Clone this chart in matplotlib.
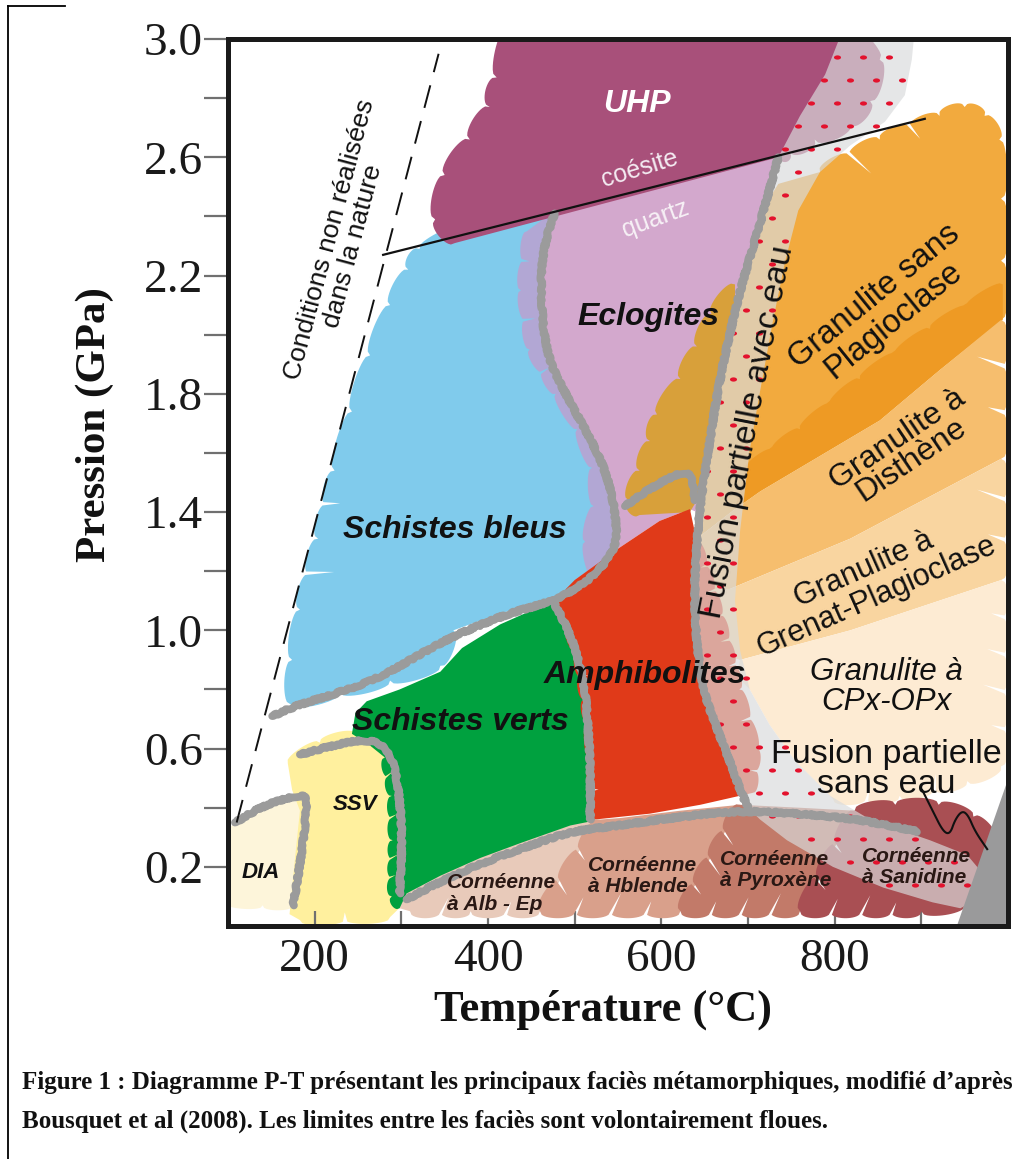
import numpy as np
import matplotlib
matplotlib.use("Agg")
import matplotlib.pyplot as plt
from matplotlib.patches import Polygon
from matplotlib.path import Path
from matplotlib.lines import Line2D

plt.rcParams['font.family'] = ['Liberation Serif', 'DejaVu Serif']

# ---------------- axes ----------------
T_RANGE = (100, 1000)
P_RANGE = (0.0, 3.0)
X_MAJOR = [200, 400, 600, 800]
X_MINOR = [300, 500, 700, 900]
Y_MAJOR = [0.2, 0.6, 1.0, 1.4, 1.8, 2.2, 2.6, 3.0]
Y_MINOR = [0.4, 0.8, 1.2, 1.6, 2.0, 2.4, 2.8]

# ---------------- facies fields (T in degC, P in GPa) ----------------
DIA_T = [95, 108, 143, 177, 189, 191, 187, 181, 175, 140, 95]
DIA_P = [0.31, 0.35, 0.41, 0.44, 0.44, 0.41, 0.29, 0.17, 0.07, 0.07, 0.08]

SSV_T = [169, 206, 247, 275, 293, 298, 302, 301, 287, 183, 171, 177, 183, 174]
SSV_P = [0.55, 0.62, 0.65, 0.64, 0.59, 0.43, 0.26, 0.07, 0.03, 0.02, 0.04, 0.22, 0.39, 0.46]

GREEN_T = [243, 247, 260, 298, 345, 370, 414, 460, 478, 497, 508, 518, 523, 523,
           498, 437, 379, 322, 298, 289, 290, 289, 281, 264]
GREEN_P = [0.65, 0.72, 0.76, 0.80, 0.86, 0.94, 1.02, 1.08, 1.09, 1.00, 0.90, 0.70, 0.46, 0.35,
           0.32, 0.26, 0.18, 0.11, 0.06, 0.10, 0.29, 0.44, 0.57, 0.61]

BLUE_T = [321, 379, 437, 477, 466, 460, 466, 491, 518, 537, 547, 549, 521, 475, 417, 360,
          345, 287, 229, 172, 174, 183, 204, 223, 243, 264, 287, 308]
BLUE_P = [2.29, 2.37, 2.40, 2.42, 2.32, 2.18, 1.94, 1.79, 1.65, 1.53, 1.40, 1.28, 1.18, 1.10,
          1.06, 1.00, 0.88, 0.83, 0.79, 0.75, 0.90, 1.07, 1.31, 1.54, 1.74, 1.93, 2.10, 2.22]

LAV_T = [477, 466, 460, 466, 491, 518, 537, 547, 549, 521, 512, 522, 520, 503, 478, 448, 438, 445]
LAV_P = [2.42, 2.32, 2.18, 1.94, 1.79, 1.65, 1.53, 1.40, 1.28, 1.18, 1.30, 1.42, 1.55, 1.68,
         1.80, 1.95, 2.15, 2.35]

ECL_T = [477, 735, 720, 705, 691, 677, 665, 656, 647, 641, 633, 598, 552, 500, 521, 549,
         547, 537, 518, 491, 466, 460, 466]
ECL_P = [2.42, 2.61, 2.44, 2.29, 2.15, 1.98, 1.81, 1.64, 1.475, 1.40, 1.41, 1.37, 1.28, 1.17,
         1.18, 1.28, 1.40, 1.53, 1.65, 1.79, 1.94, 2.18, 2.32]

UHP_T = [425, 812, 852, 841, 818, 777, 748, 735, 362, 339, 350, 379, 402, 410]
UHP_P = [3.05, 3.05, 2.93, 2.79, 2.71, 2.66, 2.62, 2.60, 2.31, 2.39, 2.54, 2.66, 2.77, 2.87]

GOLD_T = [685, 658, 641, 622, 595, 587, 575, 562, 575, 633, 647, 656, 665, 677, 685]
GOLD_P = [2.17, 2.07, 1.96, 1.85, 1.73, 1.64, 1.54, 1.44, 1.39, 1.40, 1.47, 1.64, 1.81, 1.98, 2.12]

RED_T = [500, 552, 598, 633, 641, 668, 690, 710, 705, 645, 587, 523, 518, 515, 503, 491, 478, 490]
RED_P = [1.17, 1.28, 1.37, 1.41, 1.30, 1.05, 0.80, 0.60, 0.45, 0.41, 0.38, 0.36, 0.56, 0.69,
         0.92, 1.01, 1.09, 1.14]

GSP_T = [783, 852, 921, 950, 973, 990, 992, 992, 992, 921, 852, 783, 714, 685, 641, 647, 656,
         665, 677, 691, 705, 720, 735]
GSP_P = [2.55, 2.66, 2.74, 2.77, 2.74, 2.66, 2.46, 2.25, 2.05, 1.88, 1.71, 1.59, 1.47, 1.41,
         1.31, 1.47, 1.64, 1.81, 1.98, 2.15, 2.29, 2.44, 2.51]
GDARK_T = [994, 910, 829, 760, 696, 685, 714, 783, 852, 921, 994]
GDARK_P = [2.17, 2.02, 1.85, 1.68, 1.54, 1.41, 1.47, 1.59, 1.71, 1.88, 2.05]
DIS_T = [992, 921, 852, 783, 714, 685, 641, 638, 679, 818, 992]
DIS_P = [2.05, 1.88, 1.71, 1.59, 1.47, 1.41, 1.31, 1.14, 1.14, 1.31, 1.58]
GRE_T = [992, 818, 679, 638, 640, 691, 818, 992]
GRE_P = [1.58, 1.31, 1.14, 1.14, 0.95, 0.90, 1.00, 1.17]
CPX_T = [992, 818, 691, 686, 702, 725, 754, 798, 875, 953, 992]
CPX_P = [1.17, 1.00, 0.90, 0.85, 0.80, 0.68, 0.56, 0.43, 0.44, 0.49, 0.54]

ALB_T = [298, 306, 345, 391, 437, 495, 529, 460, 380, 310]
ALB_P = [0.06, 0.11, 0.17, 0.23, 0.28, 0.34, 0.36, 0.05, 0.05, 0.05]
HBL_T = [529, 552, 622, 691, 622, 460]
HBL_P = [0.36, 0.365, 0.39, 0.41, 0.05, 0.05]
PYX_T = [691, 760, 823, 760, 622]
PYX_P = [0.41, 0.40, 0.39, 0.05, 0.05]
SAN_T = [823, 870, 920, 960, 985, 975, 950, 900, 760]
SAN_P = [0.39, 0.41, 0.41, 0.37, 0.29, 0.18, 0.07, 0.05, 0.05]

# partial-melting (wet) band
BAND_T = [893, 889, 881, 858, 818, 783, 758, 743, 729, 714, 702, 691, 685, 691, 702, 725, 754,
          795, 841, 910, 953, 973, 979, 945, 913, 856, 798, 745, 714, 700, 691, 676, 660, 648,
          640, 638, 641, 647, 656, 665, 677, 691, 705, 720, 735, 760, 789, 812]
BAND_P = [3.05, 2.93, 2.81, 2.72, 2.64, 2.55, 2.42, 2.25, 2.05, 1.81, 1.61, 1.34, 1.10, 0.93,
          0.80, 0.68, 0.56, 0.44, 0.36, 0.29, 0.24, 0.17, 0.11, 0.06, 0.08, 0.13, 0.20, 0.29,
          0.36, 0.40, 0.46, 0.58, 0.70, 0.80, 0.97, 1.14, 1.31, 1.47, 1.64, 1.81, 1.98, 2.15,
          2.29, 2.44, 2.60, 2.74, 2.88, 3.05]

CORNER_T = [941, 1010, 1010]
CORNER_P = [0.0, 0.58, 0.0]

# ---------------- boundaries ----------------
G_DIA_T = [108, 143, 177, 189, 191, 187, 181, 175]
G_DIA_P = [0.35, 0.41, 0.44, 0.44, 0.41, 0.29, 0.17, 0.07]
G_SSV_T = [183, 221, 252, 275, 290, 298, 301, 298]
G_SSV_P = [0.58, 0.61, 0.63, 0.62, 0.57, 0.44, 0.29, 0.11]
G_BS_T = [151, 183, 229, 275, 322, 360, 417, 457, 475]
G_BS_P = [0.71, 0.75, 0.79, 0.84, 0.92, 0.98, 1.05, 1.085, 1.10]
G_GA_T = [475, 491, 503, 512, 515, 518, 518]
G_GA_P = [1.10, 1.01, 0.92, 0.80, 0.69, 0.56, 0.36]
G_BE_T = [477, 466, 460, 466, 491, 518, 537, 547, 549, 521, 495, 475]
G_BE_P = [2.41, 2.32, 2.18, 1.94, 1.79, 1.65, 1.53, 1.40, 1.28, 1.18, 1.13, 1.10]
G_EA_T = [558, 587, 625, 635, 639]
G_EA_P = [1.42, 1.48, 1.54, 1.52, 1.44]
G_WET_T = [735, 720, 705, 691, 677, 665, 656, 647, 641, 638, 640, 648, 660, 676, 691, 700]
G_WET_P = [2.60, 2.44, 2.29, 2.15, 1.98, 1.81, 1.64, 1.475, 1.305, 1.14, 0.97, 0.80, 0.70,
           0.58, 0.46, 0.40]
CONTACT_T = [306, 345, 391, 437, 495, 552, 622, 691, 760, 829, 895]
CONTACT_P = [0.09, 0.15, 0.21, 0.26, 0.32, 0.34, 0.37, 0.39, 0.38, 0.36, 0.32]

COESITE_T = [279, 904]
COESITE_P = [2.27, 2.73]
LIMIT_T = [110, 343]
LIMIT_P = [0.35, 2.95]
CURL_T = [901, 913, 925, 933, 939, 947, 954, 962, 976]
CURL_P = [0.46, 0.39, 0.32, 0.31, 0.36, 0.39, 0.375, 0.32, 0.26]

# ---------------- colours ----------------
C_DIA, C_SSV, C_GREEN = '#FDF5DA', '#FFF09E', '#00A13F'
C_BLUE, C_LAV, C_ECL, C_UHP = '#80CBEC', '#B8A3D2', '#D3A8CD', '#A8507A'
C_GOLD, C_RED = '#D8A03A', '#E03A19'
C_GSP, C_GDARK, C_DIS, C_GRE, C_CPX = '#F2AA3E', '#EE9A24', '#F6BE6E', '#F9D5A0', '#FDEBD3'
C_ALB, C_HBL, C_PYX, C_SAN = '#E8CABA', '#D9A08B', '#C27A69', '#A94F53'
C_BAND, C_DOT, C_LINE, C_CORNER = '#D9DBDC', '#E3122D', '#9B9B9B', '#9A9A9B'

W, H = 1024, 1159
fig = plt.figure(figsize=(W / 100, H / 100), dpi=100)
ax = fig.add_axes([228 / W, 1 - 926 / H, 780 / W, 887 / H])
ax.set_xlim(*T_RANGE)
ax.set_ylim(*P_RANGE)


def to_disp(T, P):
    return ax.transData.transform(np.column_stack([T, P]))


def lobed_outline(T, P, lobed=(), period=34.0, amp=9.0, spike=0.0, skew=0.0):
    """Polygon outline; selected edges become brush-stroke tips separated by thin slits."""
    pts = to_disp(T, P)
    x, y = pts[:, 0], pts[:, 1]
    area = 0.5 * np.sum(x * np.roll(y, -1) - np.roll(x, -1) * y)
    sgn = 1.0 if area > 0 else -1.0
    out = []
    n = len(pts)
    for i in range(n):
        a, b = pts[i], pts[(i + 1) % n]
        if i not in lobed:
            out.append(a)
            continue
        d = b - a
        L = np.hypot(d[0], d[1])
        k = max(1, int(round(L / period)))
        tan = d / L
        nrm = sgn * np.array([d[1], -d[0]]) / L
        u = np.linspace(0.05, 0.95, 14)
        out.append(a)
        for j in range(k):
            if spike > 0 and j > 0:
                base = a + d * (j / k)
                depth = spike * (0.55 + 0.45 * ((j * 5 + i) % 3) / 2.0)
                out.append(base - depth * nrm + skew * depth * tan)
            t = (j + u) / k
            off = amp * np.sin(np.pi * u) ** 0.35
            out.extend(a + np.outer(t, d) + np.outer(off, nrm))
    return ax.transData.inverted().transform(np.array(out))


def field(T, P, color, lobed=(), amp=9.0, period=34.0, spike=0.0, skew=0.0, z=1.0,
          alpha=1.0):
    verts = lobed_outline(T, P, lobed, period, amp, spike, skew)
    ax.add_patch(Polygon(verts, closed=True, facecolor=color, edgecolor='none',
                         zorder=z, alpha=alpha))
    return verts


def chaikin(T, P, n=3):
    pts = np.column_stack([T, P]).astype(float)
    for _ in range(n):
        q = 0.75 * pts[:-1] + 0.25 * pts[1:]
        r = 0.25 * pts[:-1] + 0.75 * pts[1:]
        new = np.empty((2 * len(q), 2))
        new[0::2], new[1::2] = q, r
        pts = np.vstack([pts[:1], new, pts[-1:]])
    return pts[:, 0], pts[:, 1]


def boundary(T, P, lw=5.6):
    xs, ys = chaikin(T, P)
    ln, = ax.plot(xs, ys, color=C_LINE, lw=lw, solid_capstyle='round',
                  solid_joinstyle='round', zorder=2.2)
    ln.set_sketch_params(1.0, 5.0, 8.0)


# ---------------- fields ----------------
field(DIA_T, DIA_P, C_DIA, lobed={8, 9}, amp=5, period=40, z=1.0)
field(SSV_T, SSV_P, C_SSV, lobed={0, 1, 2, 8}, amp=6, period=40, spike=8, z=1.05)
field(GREEN_T, GREEN_P, C_GREEN, lobed={18, 19, 20, 21}, amp=5, period=20, spike=6, skew=0.8,
      z=1.1)
field(BLUE_T, BLUE_P, C_BLUE, lobed={0, 1, 2, 15, 16, 17, 18, 19, 20, 21, 22, 23, 24, 25, 26, 27},
      amp=7, period=42, spike=24, skew=0.35, z=1.15)
field(LAV_T, LAV_P, C_LAV, lobed={9, 10, 11, 12, 13, 14, 15, 16}, amp=5, period=30, spike=10,
      z=1.2, alpha=0.9)
field(ECL_T, ECL_P, C_ECL, z=1.25)
field(GOLD_T, GOLD_P, C_GOLD, lobed={0, 1, 2, 3, 4, 5, 6, 7}, amp=7, period=32, spike=10, z=1.3)
field(UHP_T, UHP_P, C_UHP, lobed={1, 2, 3, 4, 5, 6, 8, 9, 10, 11, 12, 13}, amp=8, period=44,
      spike=22, skew=0.3, z=1.35)

field(GSP_T, GSP_P, C_GSP, lobed={0, 1, 2, 3, 4, 5, 6, 7}, amp=7, period=42, spike=26,
      skew=0.4, z=1.4)
field(GDARK_T, GDARK_P, C_GDARK, lobed={0, 1, 2, 3}, amp=5, period=46, z=1.42)
field(DIS_T, DIS_P, C_DIS, lobed={10}, amp=7, period=40, spike=24, skew=0.4, z=1.44)
field(GRE_T, GRE_P, C_GRE, lobed={7}, amp=7, period=40, spike=24, skew=0.4, z=1.46)
field(CPX_T, CPX_P, C_CPX, lobed={7, 8, 9, 10}, amp=7, period=40, spike=18, skew=0.4, z=1.48)

field(RED_T, RED_P, C_RED, lobed={4, 5, 6, 7, 11, 12, 13, 14}, amp=5, period=26, spike=8, z=1.5)

field(ALB_T, ALB_P, C_ALB, lobed={7, 8}, amp=7, period=34, spike=18, skew=-0.6, z=1.6)
field(HBL_T, HBL_P, C_HBL, lobed={4, 5}, amp=7, period=34, spike=18, skew=-0.6, z=1.62)
field(PYX_T, PYX_P, C_PYX, lobed={3, 4}, amp=7, period=34, spike=18, skew=-0.6, z=1.64)
field(SAN_T, SAN_P, C_SAN, lobed={0, 1, 2, 3, 6, 7, 8}, amp=7, period=34, spike=16, skew=-0.6,
      z=1.66)

band = field(BAND_T, BAND_P, C_BAND, z=1.9, alpha=0.68)

# red dots scattered through the wet-melting band
band_path = Path(ax.transData.transform(band))
bx0, by0 = band_path.vertices.min(axis=0)
bx1, by1 = band_path.vertices.max(axis=0)
rows = np.arange(by0, by1, 23.0)
cand = []
for j, yy in enumerate(rows):
    xs = np.arange(bx0 + (j % 2) * 13.0, bx1, 26.0)
    cand.extend([(xx, yy) for xx in xs])
cand = np.array(cand)
inside = cand[band_path.contains_points(cand)]
dots = ax.transData.inverted().transform(inside)
th = np.linspace(0, 2 * np.pi, 24)
ell = np.column_stack([np.cos(th), 0.6 * np.sin(th)])
ax.scatter(dots[:, 0], dots[:, 1], marker=ell, s=26, color=C_DOT, linewidths=0, zorder=1.95)

field(CORNER_T, CORNER_P, C_CORNER, z=2.0)

# ---------------- boundaries ----------------
for bt, bp in [(G_DIA_T, G_DIA_P), (G_SSV_T, G_SSV_P), (G_BS_T, G_BS_P), (G_GA_T, G_GA_P),
               (G_BE_T, G_BE_P), (G_EA_T, G_EA_P), (G_WET_T, G_WET_P),
               (CONTACT_T, CONTACT_P)]:
    boundary(bt, bp)

ax.plot(COESITE_T, COESITE_P, color='#111111', lw=1.6, zorder=2.3)
dash, = ax.plot(LIMIT_T, LIMIT_P, color='#111111', lw=1.4, zorder=2.3)
dash.set_dashes((12, 7))
ct, cp = chaikin(CURL_T, CURL_P)
ax.plot(ct, cp, color='#111111', lw=1.5, zorder=2.3)

# ---------------- labels ----------------
SANS = ['Liberation Sans', 'DejaVu Sans']


def label(T, P, s, size, color='#111111', weight='bold', style='italic', rot=0, ls=1.1,
          malign='center'):
    ax.text(T, P, s, fontsize=size, color=color, fontweight=weight, fontstyle=style,
            family=SANS, rotation=rot, rotation_mode='anchor', ha='center', va='center',
            multialignment=malign, linespacing=ls, zorder=3)


label(572, 2.78, 'UHP', 23, color='white')
label(575, 2.56, 'coésite', 18, color='#F4ECF2', weight='normal', style='normal', rot=17)
label(593, 2.39, 'quartz', 18, color='#F7F1F6', weight='normal', style='normal', rot=20)
label(585, 2.06, 'Eclogites', 23)
label(362, 1.34, 'Schistes bleus', 23)
label(368, 0.69, 'Schistes verts', 23)
label(581, 0.85, 'Amphibolites', 23)
label(247, 0.41, 'SSV', 16)
label(138, 0.18, 'DIA', 16)
HF = '#2A1814'
label(416, 0.11, 'Cornéenne\nà Alb - Ep', 15, color=HF, ls=1.15, malign='left')
label(578, 0.17, 'Cornéenne\nà Hblende', 15, color=HF, ls=1.15, malign='left')
label(732, 0.19, 'Cornéenne\nà Pyroxène', 15, color=HF, ls=1.15, malign='left')
label(894, 0.20, 'Cornéenne\nà Sanidine', 15, color=HF, ls=1.15, malign='left')

label(231, 2.31, 'Conditions non réalisées\ndans la nature', 19, weight='normal',
      style='normal', rot=75, ls=1.0)
label(700, 1.67, 'Fusion partielle avec eau', 24.5, weight='normal', style='normal', rot=79)
label(857, 2.09, 'Granulite sans\nPlagioclase', 23.5, weight='normal', style='normal', rot=39,
      ls=1.0)
label(880, 1.61, 'Granulite à\nDisthène', 23, weight='normal', style='normal', rot=34, ls=0.75)
label(841, 1.16, 'Granulite à\nGrenat-Plagioclase', 22, weight='normal', style='normal', rot=24,
      ls=1.0)
label(860, 0.81, 'Granulite à\nCPx-OPx', 22.5, weight='normal', style='italic', ls=1.0)
label(860, 0.53, 'Fusion partielle\nsans eau', 24.5, weight='normal', style='normal', ls=0.95)

# ---------------- axes styling ----------------
for s in ax.spines.values():
    s.set_linewidth(3.6)
    s.set_color('#1A1A1A')
ax.set_xticks(X_MAJOR)
ax.set_xticks(X_MINOR, minor=True)
ax.set_xticklabels([str(v) for v in X_MAJOR])
ax.set_yticks(Y_MAJOR)
ax.set_yticks(Y_MINOR, minor=True)
ax.set_yticklabels([f'{v:.1f}' for v in Y_MAJOR])
ax.tick_params(axis='x', which='both', direction='in', length=11, width=1.6, color='#707070',
               labelsize=34, pad=9, labelcolor='#1A1A1A')
ax.tick_params(axis='y', which='both', direction='out', length=17, width=1.6, color='#707070',
               labelsize=34, pad=1, labelcolor='#1A1A1A')

fig.text(95 / W, 1 - 425 / H, 'Pression (GPa)', rotation=90, fontsize=31,
         fontweight='bold', ha='center', va='center', color='#111111')
fig.text(603 / W, 1 - 1010 / H, 'Température (°C)', fontsize=32, fontweight='bold',
         ha='center', va='center', color='#111111')

cap1 = fig.text(22 / W, 1 - 1082 / H,
                'Figure 1 : Diagramme P-T présentant les principaux faciès métamorphiques, '
                'modifié d\u2019après', fontsize=16, fontweight='bold', ha='left', va='center',
                color='#111111')
renderer = fig.canvas.get_renderer()
wcap = cap1.get_window_extent(renderer).width
cap_size = 16 * 998 / wcap
cap1.set_fontsize(cap_size)
fig.text(22 / W, 1 - 1121 / H,
         'Bousquet et al (2008). Les limites entre les faciès sont volontairement floues.',
         fontsize=cap_size, fontweight='bold', ha='left', va='center', color='#111111')

# page frame
fig.add_artist(Line2D([8 / W, 8 / W], [0, 1 - 6 / H], color='black', lw=1.3,
                      transform=fig.transFigure))
fig.add_artist(Line2D([8 / W, 65 / W], [1 - 6 / H, 1 - 6 / H], color='black', lw=1.3,
                      transform=fig.transFigure))

fig.savefig('out.png', dpi=100)
